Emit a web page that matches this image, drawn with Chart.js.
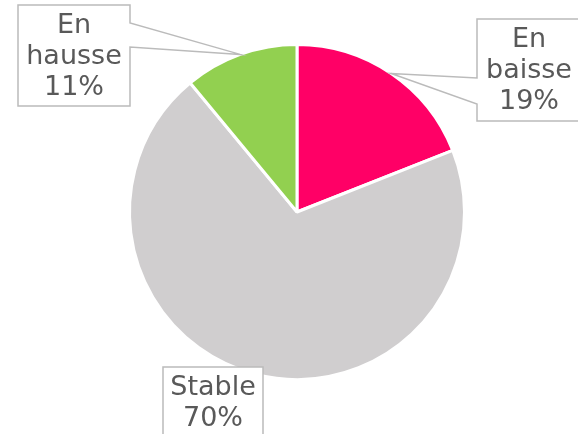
<!DOCTYPE html>
<html>
<head>
<meta charset="utf-8">
<script src="https://cdn.jsdelivr.net/npm/chart.js@4.4.1/dist/chart.umd.min.js"></script>
<style>
  html, body { margin: 0; padding: 0; background: #fff; }
  #wrap { width: 578px; height: 434px; }
</style>
</head>
<body>
<div id="wrap"><canvas id="chart" width="578" height="434"></canvas></div>
<script>
const categories = ['En baisse', 'Stable', 'En hausse'];
const values = [19, 70, 11];
const sliceColors = ['#FF0066', '#D0CECF', '#92D050'];

// callout boxes: box rect, text centre, pointer base on box edge (null = no pointer)
const callouts = [
  { box: [477, 19, 590, 121], cx: 529, lines: [40, 71, 102], split: true, base: [[477, 104], [477, 78]] },
  { box: [163, 367, 263, 450], cx: 213, lines: [388, 419], split: false, base: null },
  { box: [18, 5, 130, 106], cx: 74, lines: [26, 57, 88], split: true, base: [[130, 23], [130, 47]] },
];

const calloutPlugin = {
  id: 'callouts',
  afterDatasetsDraw(chart) {
    const ctx = chart.ctx;
    const arcs = chart.getDatasetMeta(0).data;
    ctx.save();
    callouts.forEach((c, i) => {
      const [l, t, r, b] = c.box;
      ctx.beginPath();
      if (c.base) {
        const arc = arcs[i];
        const mid = (arc.startAngle + arc.endAngle) / 2;
        const ax = arc.x + Math.cos(mid) * arc.outerRadius;
        const ay = arc.y + Math.sin(mid) * arc.outerRadius;
        const [p1, p2] = c.base;
        if (p1[0] === l) {
          ctx.moveTo(l, t); ctx.lineTo(r, t); ctx.lineTo(r, b); ctx.lineTo(l, b);
          ctx.lineTo(p1[0], p1[1]); ctx.lineTo(ax, ay); ctx.lineTo(p2[0], p2[1]);
          ctx.closePath();
        } else {
          ctx.moveTo(l, t); ctx.lineTo(r, t); ctx.lineTo(p1[0], p1[1]);
          ctx.lineTo(ax, ay); ctx.lineTo(p2[0], p2[1]);
          ctx.lineTo(r, b); ctx.lineTo(l, b); ctx.closePath();
        }
      } else {
        ctx.rect(l, t, r - l, b - t);
      }
      ctx.fillStyle = '#fff';
      ctx.fill();
      ctx.strokeStyle = '#BBBBBB';
      ctx.lineWidth = 1.5;
      ctx.stroke();

      const name = categories[i];
      const words = c.split ? name.split(' ') : [name];
      const textLines = words.concat([values[i] + '%']);
      ctx.fillStyle = '#595959';
      ctx.font = '27px "DejaVu Sans"';
      ctx.textAlign = 'center';
      ctx.textBaseline = 'middle';
      textLines.forEach((s, k) => ctx.fillText(s, c.cx, c.lines[k]));
    });
    ctx.restore();
  }
};

new Chart(document.getElementById('chart'), {
  type: 'pie',
  data: {
    labels: categories,
    datasets: [{
      data: values,
      backgroundColor: sliceColors,
      borderColor: '#fff',
      borderWidth: 3,
      hoverOffset: 0,
    }],
  },
  options: {
    responsive: false,
    animation: false,
    layout: { padding: { top: 43, bottom: 53, left: 128, right: 112 } },
    plugins: {
      legend: { display: false },
      tooltip: { enabled: false },
    },
  },
  plugins: [calloutPlugin],
});
</script>
</body>
</html>
